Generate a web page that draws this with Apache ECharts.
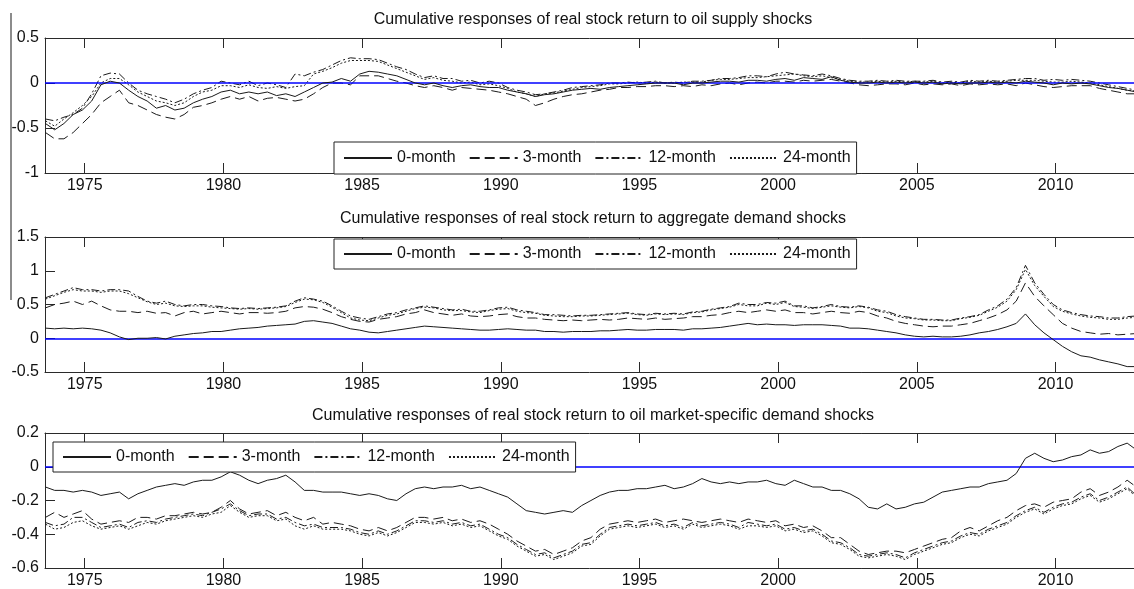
<!DOCTYPE html>
<html><head><meta charset="utf-8">
<script src="https://cdn.jsdelivr.net/npm/echarts@6/dist/echarts.min.js"></script>
<style>html,body{margin:0;padding:0;background:#fff}#c{width:1134px;height:589px}</style>
</head><body><div id="c"></div>
<script>
// x positions: one point every 4 months starting Aug 1973
const xStart = 1973 + 7 / 12;
const xStep = 1 / 3;
const seriesNames = ['0-month', '3-month', '12-month', '24-month'];
const panelTitles = [
  'Cumulative responses of real stock return to oil supply shocks',
  'Cumulative responses of real stock return to aggregate demand shocks',
  'Cumulative responses of real stock return to oil market-specific demand shocks'
];
const xTickYears = [1975, 1980, 1985, 1990, 1995, 2000, 2005, 2010];

// Panel 1: oil supply shocks
const supply0 = [-0.45,-0.52, -0.45,-0.35,-0.30, -0.20,-0.02,0.02, 0.00,-0.08,-0.15, -0.20,-0.28,-0.25, -0.30,-0.28,-0.22, -0.18,-0.15,-0.10, -0.08,-0.12,-0.10, -0.12,-0.10,-0.14, -0.12,-0.15,-0.10, -0.05,0.00,0.01, 0.05,0.02,0.10, 0.13,0.12,0.10, 0.08,0.04,0.00, -0.02,0.00,-0.03, -0.05,-0.03,-0.02, -0.04,-0.05,-0.05, -0.08,-0.10,-0.12, -0.15,-0.13,-0.12, -0.10,-0.08,-0.07, -0.06,-0.07,-0.05, -0.04,-0.03,-0.02, -0.01,0.00,0.00, 0.00,-0.02,0.00, 0.00,0.01,0.02, 0.02,0.01,0.03, 0.03,0.02,0.04, 0.05,0.03,0.06, 0.05,0.04,0.07, 0.03,0.01,0.00, 0.00,0.01,0.00, 0.01,0.00,0.01, 0.00,0.01,-0.01, 0.00,-0.01,0.00, 0.00,0.01,0.00, 0.01,0.00,0.02, 0.01,0.00,-0.02, 0.00,-0.01,0.00, -0.01,-0.03,-0.05, -0.06,-0.08,-0.10];
const supply3 = [-0.55,-0.62, -0.62,-0.55,-0.45, -0.35,-0.22,-0.15, -0.08,-0.22,-0.25, -0.30,-0.35,-0.38, -0.40,-0.35,-0.27, -0.25,-0.22,-0.18, -0.15,-0.18,-0.15, -0.20,-0.17,-0.16, -0.18,-0.20,-0.18, -0.12,-0.05,0.00, 0.00,-0.02,0.08, 0.08,0.08,0.05, 0.02,0.00,-0.03, -0.05,-0.03,-0.05, -0.08,-0.05,-0.06, -0.07,-0.08,-0.10, -0.12,-0.15,-0.18, -0.25,-0.22,-0.18, -0.15,-0.13,-0.12, -0.10,-0.08,-0.07, -0.05,-0.05,-0.04, -0.04,-0.03,-0.03, -0.04,-0.03,-0.04, -0.02,-0.03,-0.01, 0.00,-0.02,0.00, 0.01,0.00,0.02, 0.02,0.01,0.03, 0.02,0.03,0.04, 0.02,0.00,-0.02, -0.03,-0.02,-0.01, -0.01,-0.02,0.00, -0.02,-0.01,-0.02, -0.01,-0.03,-0.01, -0.02,-0.01,-0.02, -0.01,-0.03,0.00, -0.02,-0.04,-0.05, -0.04,-0.03,-0.03, -0.03,-0.06,-0.08, -0.10,-0.12,-0.12];
const supply12 = [-0.40,-0.42, -0.38,-0.35,-0.28, -0.12,0.08,0.11, 0.10,0.00,-0.08, -0.12,-0.15,-0.18, -0.22,-0.18,-0.12, -0.08,-0.05,0.02, 0.00,-0.02,0.02, -0.03,0.00,-0.02, -0.05,0.10,0.08, 0.12,0.15,0.20, 0.25,0.28,0.27, 0.27,0.26,0.22, 0.18,0.15,0.10, 0.06,0.08,0.05, 0.05,0.02,0.03, 0.00,0.02,0.00, -0.05,-0.08,-0.10, -0.13,-0.12,-0.10, -0.08,-0.05,-0.04, -0.03,-0.02,0.00, 0.00,0.01,0.00, 0.01,0.02,0.00, 0.01,0.00,0.02, 0.02,0.03,0.05, 0.05,0.06,0.08, 0.08,0.07,0.10, 0.12,0.10,0.09, 0.08,0.10,0.08, 0.05,0.03,0.02, 0.02,0.03,0.02, 0.03,0.02,0.02, 0.02,0.03,0.01, 0.02,0.01,0.03, 0.02,0.03,0.02, 0.03,0.04,0.05, 0.05,0.03,0.04, 0.03,0.04,0.03, 0.02,0.00,-0.02, -0.04,-0.06,-0.08];
const supply24 = [-0.42,-0.48, -0.40,-0.33,-0.25, -0.15,0.00,0.05, 0.05,-0.02,-0.10, -0.15,-0.20,-0.22, -0.25,-0.22,-0.15, -0.10,-0.08,-0.03, -0.03,-0.05,-0.02, -0.05,-0.06,-0.04, -0.06,-0.04,-0.03, 0.10,0.13,0.17, 0.22,0.25,0.25, 0.25,0.24,0.20, 0.16,0.12,0.08, 0.04,0.06,0.03, 0.02,0.00,0.01, -0.02,-0.01,-0.03, -0.06,-0.10,-0.12, -0.15,-0.12,-0.11, -0.09,-0.07,-0.05, -0.04,-0.03,-0.01, -0.01,0.00,0.01, 0.00,0.01,0.00, 0.00,0.01,0.01, 0.01,0.03,0.04, 0.04,0.05,0.06, 0.06,0.07,0.08, 0.09,0.10,0.08, 0.07,0.08,0.06, 0.04,0.02,0.01, 0.01,0.02,0.01, 0.02,0.01,0.02, 0.01,0.02,0.00, 0.01,0.00,0.02, 0.01,0.02,0.01, 0.02,0.03,0.03, 0.03,0.02,0.01, 0.01,0.02,0.01, 0.00,-0.02,-0.04, -0.06,-0.08,-0.09];

// Panel 2: aggregate demand shocks
const demand0 = [0.15,0.14, 0.15,0.14,0.15, 0.14,0.12,0.08, 0.02,-0.02,0.00, 0.00,0.01,-0.01, 0.03,0.05,0.07, 0.08,0.10,0.10, 0.12,0.14,0.15, 0.16,0.18,0.19, 0.20,0.21,0.25, 0.26,0.24,0.22, 0.18,0.14,0.12, 0.09,0.08,0.10, 0.12,0.14,0.16, 0.18,0.17,0.16, 0.15,0.14,0.13, 0.12,0.12,0.13, 0.14,0.13,0.12, 0.12,0.10,0.10, 0.09,0.10,0.10, 0.10,0.11,0.11, 0.12,0.13,0.12, 0.12,0.13,0.13, 0.13,0.12,0.14, 0.14,0.15,0.16, 0.18,0.20,0.22, 0.20,0.21,0.20, 0.20,0.19,0.20, 0.20,0.20,0.19, 0.18,0.15,0.15, 0.14,0.12,0.10, 0.08,0.05,0.03, 0.02,0.03,0.02, 0.02,0.03,0.05, 0.08,0.10,0.13, 0.17,0.22,0.36, 0.20,0.08,-0.02, -0.12,-0.20,-0.26, -0.28,-0.32,-0.35, -0.38,-0.42,-0.42];
const demand3 = [0.45,0.50, 0.52,0.55,0.50, 0.55,0.48,0.42, 0.40,0.40,0.38, 0.40,0.37,0.38, 0.33,0.38,0.40, 0.36,0.38,0.40, 0.38,0.36,0.38, 0.38,0.37,0.38, 0.40,0.45,0.47, 0.46,0.43,0.38, 0.32,0.28,0.25, 0.24,0.28,0.30, 0.32,0.36,0.38, 0.42,0.38,0.36, 0.34,0.36,0.33, 0.32,0.33,0.35, 0.36,0.32,0.30, 0.30,0.28,0.27, 0.26,0.27,0.26, 0.27,0.28,0.27, 0.28,0.30,0.29, 0.28,0.30,0.28, 0.29,0.30,0.32, 0.32,0.34,0.35, 0.38,0.40,0.38, 0.40,0.42,0.40, 0.42,0.38,0.38, 0.36,0.38,0.40, 0.38,0.37,0.40, 0.38,0.33,0.30, 0.25,0.22,0.20, 0.18,0.17,0.18, 0.18,0.20,0.22, 0.26,0.30,0.35, 0.42,0.55,0.82, 0.62,0.48,0.35, 0.22,0.15,0.10, 0.08,0.06,0.07, 0.05,0.06,0.07];
const demand12 = [0.60,0.65, 0.70,0.75,0.72, 0.72,0.70,0.72, 0.72,0.70,0.62, 0.55,0.52,0.55, 0.50,0.48,0.50, 0.50,0.48,0.47, 0.45,0.44,0.45, 0.44,0.45,0.46, 0.48,0.55,0.60, 0.58,0.55,0.48, 0.40,0.33,0.30, 0.28,0.32,0.36, 0.38,0.42,0.45, 0.48,0.46,0.44, 0.42,0.43,0.40, 0.40,0.42,0.45, 0.46,0.42,0.40, 0.38,0.35,0.35, 0.34,0.33,0.34, 0.34,0.35,0.36, 0.37,0.38,0.36, 0.35,0.37,0.36, 0.37,0.36,0.39, 0.40,0.43,0.45, 0.47,0.52,0.50, 0.50,0.53,0.52, 0.55,0.48,0.48, 0.45,0.47,0.50, 0.47,0.46,0.48, 0.46,0.42,0.40, 0.35,0.32,0.30, 0.28,0.28,0.27, 0.27,0.30,0.32, 0.35,0.42,0.48, 0.58,0.75,1.08, 0.82,0.65,0.50, 0.42,0.38,0.35, 0.33,0.32,0.30, 0.30,0.32,0.33];
const demand24 = [0.58,0.63, 0.68,0.72,0.70, 0.70,0.68,0.70, 0.70,0.66,0.60, 0.54,0.50,0.52, 0.48,0.47,0.48, 0.48,0.46,0.45, 0.44,0.43,0.44, 0.43,0.44,0.45, 0.47,0.53,0.58, 0.57,0.53,0.46, 0.38,0.30,0.27, 0.26,0.30,0.34, 0.36,0.40,0.44, 0.46,0.45,0.42, 0.41,0.41,0.39, 0.38,0.41,0.43, 0.44,0.40,0.38, 0.37,0.34,0.33, 0.32,0.32,0.33, 0.33,0.34,0.35, 0.36,0.37,0.35, 0.34,0.36,0.35, 0.36,0.35,0.38, 0.39,0.42,0.44, 0.46,0.50,0.48, 0.48,0.52,0.50, 0.53,0.47,0.46, 0.44,0.46,0.48, 0.46,0.45,0.47, 0.45,0.40,0.38, 0.33,0.30,0.29, 0.27,0.27,0.26, 0.26,0.29,0.31, 0.34,0.40,0.46, 0.55,0.72,1.02, 0.78,0.62,0.47, 0.40,0.36,0.33, 0.31,0.30,0.28, 0.28,0.30,0.31];

// Panel 3: oil market-specific demand shocks
const oilmkt0 = [-0.12,-0.14, -0.14,-0.15,-0.14, -0.15,-0.17,-0.16, -0.15,-0.19,-0.16, -0.14,-0.12,-0.11, -0.10,-0.11,-0.09, -0.08,-0.08,-0.06, -0.03,-0.05,-0.08, -0.10,-0.08,-0.07, -0.05,-0.09,-0.14, -0.14,-0.15,-0.15, -0.15,-0.16,-0.17, -0.16,-0.17,-0.19, -0.20,-0.16,-0.13, -0.12,-0.13,-0.12, -0.12,-0.11,-0.13, -0.12,-0.14,-0.16, -0.18,-0.22,-0.26, -0.27,-0.28,-0.27, -0.26,-0.27,-0.23, -0.20,-0.17,-0.15, -0.14,-0.14,-0.13, -0.13,-0.12,-0.11, -0.13,-0.12,-0.10, -0.07,-0.09,-0.10, -0.09,-0.10,-0.09, -0.09,-0.08,-0.10, -0.11,-0.08,-0.10, -0.12,-0.12,-0.14, -0.14,-0.16,-0.19, -0.24,-0.25,-0.22, -0.25,-0.24,-0.22, -0.21,-0.18,-0.15, -0.14,-0.13,-0.12, -0.12,-0.10,-0.09, -0.08,-0.04,0.05, 0.08,0.05,0.03, 0.04,0.06,0.07, 0.10,0.08,0.09, 0.12,0.14,0.10];
const oilmkt3 = [-0.30,-0.27, -0.30,-0.28,-0.26, -0.31,-0.34,-0.33, -0.32,-0.33,-0.30, -0.30,-0.31,-0.29, -0.29,-0.28,-0.27, -0.28,-0.27,-0.24, -0.20,-0.25,-0.28, -0.27,-0.26,-0.29, -0.27,-0.30,-0.32, -0.30,-0.34,-0.33, -0.34,-0.35,-0.37, -0.38,-0.36,-0.38, -0.36,-0.33,-0.30, -0.30,-0.31,-0.30, -0.32,-0.31,-0.33, -0.32,-0.34,-0.37, -0.40,-0.44,-0.47, -0.50,-0.49,-0.52, -0.50,-0.48,-0.44, -0.42,-0.37,-0.34, -0.33,-0.32,-0.33, -0.32,-0.31,-0.33, -0.32,-0.31,-0.32, -0.33,-0.32,-0.31, -0.32,-0.33,-0.31, -0.32,-0.33,-0.32, -0.35,-0.34,-0.36, -0.35,-0.38,-0.42, -0.42,-0.46,-0.50, -0.52,-0.51,-0.50, -0.50,-0.51,-0.49, -0.47,-0.45,-0.43, -0.42,-0.38,-0.36, -0.38,-0.35,-0.32, -0.30,-0.26,-0.23, -0.22,-0.24,-0.21, -0.20,-0.19,-0.15, -0.13,-0.17,-0.15, -0.12,-0.08,-0.12];
const oilmkt12 = [-0.33,-0.35, -0.34,-0.30,-0.30, -0.33,-0.36,-0.35, -0.34,-0.36,-0.33, -0.32,-0.33,-0.31, -0.30,-0.29,-0.28, -0.29,-0.27,-0.25, -0.22,-0.26,-0.29, -0.28,-0.28,-0.31, -0.30,-0.33,-0.35, -0.34,-0.36,-0.36, -0.36,-0.37,-0.39, -0.40,-0.38,-0.40, -0.38,-0.35,-0.32, -0.32,-0.33,-0.32, -0.34,-0.33,-0.35, -0.34,-0.37,-0.40, -0.42,-0.46,-0.49, -0.52,-0.51,-0.54, -0.52,-0.50,-0.46, -0.45,-0.40,-0.36, -0.35,-0.34,-0.35, -0.34,-0.33,-0.35, -0.34,-0.36,-0.33, -0.35,-0.34,-0.33, -0.34,-0.36,-0.33, -0.34,-0.35,-0.34, -0.37,-0.36,-0.38, -0.37,-0.40,-0.44, -0.45,-0.48,-0.52, -0.53,-0.52,-0.51, -0.52,-0.54,-0.51, -0.49,-0.47,-0.45, -0.44,-0.41,-0.39, -0.40,-0.37,-0.35, -0.33,-0.29,-0.26, -0.24,-0.27,-0.24, -0.22,-0.21,-0.18, -0.16,-0.20,-0.18, -0.15,-0.12,-0.17];
const oilmkt24 = [-0.34,-0.37, -0.36,-0.33,-0.32, -0.35,-0.37,-0.36, -0.35,-0.37,-0.35, -0.33,-0.34,-0.32, -0.31,-0.30,-0.29, -0.30,-0.28,-0.27, -0.23,-0.27,-0.30, -0.29,-0.29,-0.32, -0.31,-0.35,-0.37, -0.35,-0.37,-0.37, -0.37,-0.38,-0.40, -0.41,-0.39,-0.41, -0.39,-0.36,-0.33, -0.33,-0.34,-0.33, -0.35,-0.34,-0.36, -0.35,-0.38,-0.41, -0.43,-0.47,-0.50, -0.53,-0.52,-0.55, -0.53,-0.51,-0.47, -0.46,-0.41,-0.37, -0.36,-0.35,-0.36, -0.35,-0.34,-0.36, -0.35,-0.37,-0.34, -0.36,-0.35,-0.34, -0.35,-0.37,-0.35, -0.35,-0.36,-0.35, -0.38,-0.37,-0.39, -0.38,-0.41,-0.45, -0.46,-0.49,-0.53, -0.54,-0.53,-0.52, -0.53,-0.55,-0.52, -0.50,-0.48,-0.46, -0.45,-0.42,-0.40, -0.41,-0.38,-0.36, -0.34,-0.30,-0.27, -0.25,-0.28,-0.25, -0.23,-0.22,-0.19, -0.17,-0.21,-0.19, -0.16,-0.13,-0.18];

const panels = [
  { values: [supply0, supply3, supply12, supply24], yMin: -1, yMax: 0.5, yStep: 0.5 },
  { values: [demand0, demand3, demand12, demand24], yMin: -0.5, yMax: 1.5, yStep: 0.5 },
  { values: [oilmkt0, oilmkt3, oilmkt12, oilmkt24], yMin: -0.6, yMax: 0.2, yStep: 0.2 }
];

const FONT = "'Liberation Sans', Arial, Helvetica, sans-serif";
const AX = '#2a2a2a';
const LINE = '#1a1a1a';
const dashTypes = ['solid', [10, 5], [8, 3, 2, 3], [2, 2]];
const gridBoxes = [
  { left: 45, top: 38, width: 1096, height: 135 },
  { left: 45, top: 237, width: 1096, height: 135 },
  { left: 45, top: 433, width: 1096, height: 136 }
];
const titleY = [20, 219, 416];
const legendBoxes = [
  { left: 334, top: 142, pad: 8 },
  { left: 334, top: 239, pad: 7 },
  { left: 53, top: 442, pad: 7 }
];
const X_MIN = 1973.567, X_MAX = 2012.83;

const xAxes = [], yAxes = [], series = [], legends = [], graphics = [];
panels.forEach((p, gi) => {
  ['bottom', 'top'].forEach(pos => {
    xAxes.push({
      type: 'value', gridIndex: gi, position: pos, min: X_MIN, max: X_MAX, offset: 0,
      axisLine: { show: true, onZero: false, lineStyle: { color: AX, width: 1 } },
      axisTick: { show: true, inside: true, length: 10, customValues: xTickYears, lineStyle: { color: AX } },
      axisLabel: { show: pos === 'bottom', customValues: xTickYears, formatter: v => String(Math.round(v)),
                   fontSize: 16, color: '#111', fontFamily: FONT, margin: 5 },
      splitLine: { show: false }
    });
  });
  yAxes.push({
    type: 'value', gridIndex: gi, min: p.yMin, max: p.yMax, interval: p.yStep,
    axisLine: { show: true, onZero: false, lineStyle: { color: AX, width: 1 } },
    axisTick: { show: true, inside: true, length: 10, lineStyle: { color: AX } },
    axisLabel: { fontSize: 16, color: '#111', fontFamily: FONT, margin: 6 },
    splitLine: { show: false }
  });
  p.values.forEach((arr, si) => {
    const s = {
      name: seriesNames[si], type: 'line', xAxisIndex: gi * 2, yAxisIndex: gi,
      data: arr.map((v, i) => [xStart + i * xStep, v]),
      symbol: 'none', showSymbol: false, clip: true,
      lineStyle: { color: LINE, width: 1, type: dashTypes[si] },
      itemStyle: { color: LINE },
      z: 3, silent: true
    };
    if (si === 0) {
      s.z = 5;
      s.markLine = {
        silent: true, symbol: 'none', label: { show: false }, animation: false,
        lineStyle: { color: '#0000ff', width: 1.7, type: 'solid', opacity: 1 },
        data: [{ yAxis: 0 }]
      };
    }
    series.push(s);
  });
  const lp = legendBoxes[gi].pad;
  legends.push({
    left: legendBoxes[gi].left, top: legendBoxes[gi].top, orient: 'horizontal',
    data: seriesNames, selectedMode: false,
    itemWidth: 48, itemHeight: 12, itemGap: 13,
    itemStyle: { opacity: 0, borderWidth: 0 },
    padding: [lp, 6, lp, 9],
    borderColor: '#222', borderWidth: 1, backgroundColor: '#fff',
    textStyle: { fontSize: 16, color: '#111', fontFamily: FONT },
    z: 10
  });
  graphics.push({
    type: 'text', x: 593, y: titleY[gi],
    style: { text: panelTitles[gi], align: 'center', verticalAlign: 'middle', fontSize: 16, fill: '#111', fontFamily: FONT }
  });
});
graphics.push({ type: 'line', shape: { x1: 11, y1: 13, x2: 11, y2: 300 }, style: { stroke: '#666', lineWidth: 1.5 } });

const chart = echarts.init(document.getElementById('c'), null, { renderer: 'canvas' });
chart.setOption({
  animation: false,
  backgroundColor: '#fff',
  grid: gridBoxes,
  xAxis: xAxes,
  yAxis: yAxes,
  legend: legends,
  graphic: graphics,
  series: series
});
</script></body></html>
